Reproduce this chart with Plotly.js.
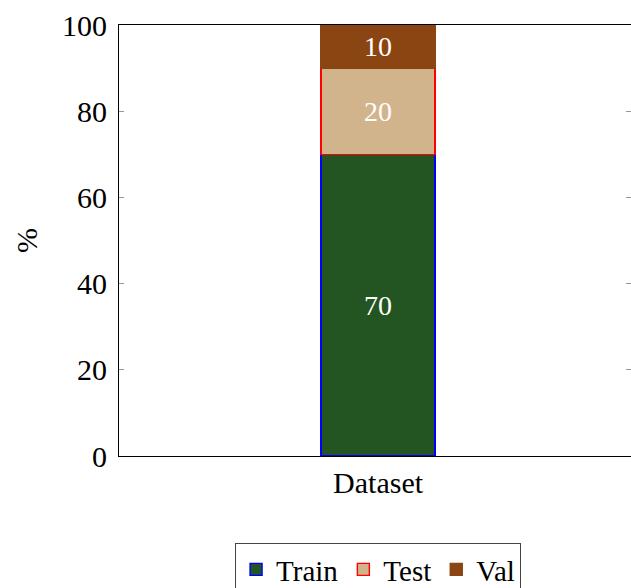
<!DOCTYPE html>
<html>
<head>
<meta charset="utf-8">
<script src="https://cdn.plot.ly/plotly-3.0.1.min.js"></script>
<style>html,body{margin:0;padding:0;background:#fff;}#chart{width:631px;height:588px;}</style>
</head>
<body>
<div id="chart"></div>
<script>
const categories = ["Dataset"];
const seriesNames = ["Train", "Test", "Val"];
const trainValues = [70];
const testValues = [20];
const valValues = [10];
const yTicks = [0, 20, 40, 60, 80, 100];

const fills = ["#235523", "#D2B48C", "#8B4513"];
const edges = ["#0000ff", "#ff0000", "#8B4513"];
const allValues = [trainValues, testValues, valValues];
const FONT = "'Liberation Serif', 'DejaVu Serif', serif";

const traces = seriesNames.map((name, i) => ({
  type: "bar",
  name: name,
  x: categories,
  y: allValues[i],
  text: allValues[i].map(String),
  textposition: "inside",
  insidetextanchor: "middle",
  textfont: {family: FONT, size: 28, color: "#ffffff"},
  marker: {color: fills[i], line: {color: edges[i], width: 1.4}},
  width: 0.2227,
  hoverinfo: "none"
}));

const layout = {
  width: 631, height: 588,
  margin: {l: 119, r: 0, t: 25, b: 132, autoexpand: false},
  barmode: "stack",
  paper_bgcolor: "#ffffff",
  plot_bgcolor: "#ffffff",
  font: {family: FONT, size: 30, color: "#000"},
  showlegend: true,
  legend: {
    orientation: "h", x: 0.506, xanchor: "center", y: -0.202, yanchor: "top",
    bordercolor: "#444", borderwidth: 1, font: {family: FONT, size: 29},
    traceorder: "normal", itemwidth: 30, tracegroupgap: 0, valign: "middle"
  },
  xaxis: {
    type: "category", range: [-0.506, 0.494],
    showline: true, mirror: true, linecolor: "#000", linewidth: 1,
    ticks: "", showgrid: false, zeroline: false,
    tickfont: {family: FONT, size: 30}
  },
  yaxis: {
    range: [0, 100], tickvals: yTicks, ticktext: yTicks.map(String),
    showline: true, mirror: "ticks", linecolor: "#000", linewidth: 1,
    ticks: "inside", ticklen: 5, tickcolor: "#999", tickwidth: 1.2,
    ticklabelstandoff: 5,
    showgrid: false, zeroline: false,
    tickfont: {family: FONT, size: 30},
    title: {text: "%", font: {family: FONT, size: 30}, standoff: 15}
  }
};

Plotly.newPlot("chart", traces, layout, {displayModeBar: false, staticPlot: true});
</script>
</body>
</html>
